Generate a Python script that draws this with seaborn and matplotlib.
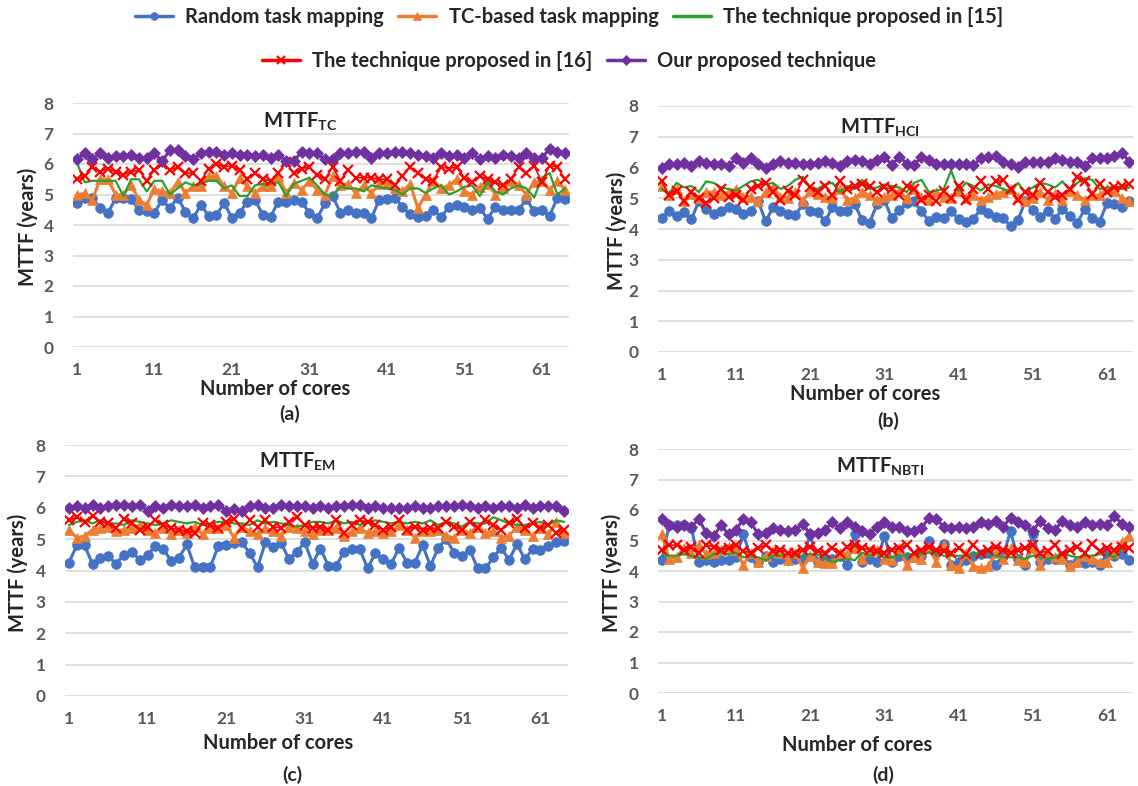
import numpy as np
import matplotlib.pyplot as plt
import seaborn as sns
from matplotlib.lines import Line2D

cores = np.arange(1, 65)
series_names = ["Random task mapping", "TC-based task mapping", "The technique proposed in [15]",
                "The technique proposed in [16]", "Our proposed technique"]
panel_titles = [r"MTTF$_{\mathbf{TC}}$", r"MTTF$_{\mathbf{HCI}}$", r"MTTF$_{\mathbf{EM}}$", r"MTTF$_{\mathbf{NBTI}}$"]
panel_tags = ["(a)", "(b)", "(c)", "(d)"]
xtick_labels = [1, 11, 21, 31, 41, 51, 61]
ytick_labels = [0, 1, 2, 3, 4, 5, 6, 7, 8]

# (a) MTTF_TC
a_random = [4.73, 4.88, 4.88, 4.55, 4.38, 4.88, 4.88, 4.84, 4.49, 4.47, 4.4, 4.82, 4.55, 4.9, 4.44, 4.22,
            4.66, 4.3, 4.33, 4.71, 4.24, 4.4, 4.77, 4.82, 4.33, 4.27, 4.77, 4.77, 4.82, 4.77, 4.38, 4.22,
            4.71, 4.95, 4.4, 4.49, 4.38, 4.38, 4.22, 4.82, 4.85, 4.9, 4.6, 4.35, 4.25, 4.3, 4.5, 4.25,
            4.6, 4.65, 4.6, 4.5, 4.55, 4.2, 4.6, 4.5, 4.5, 4.5, 4.85, 4.45, 4.5, 4.3, 4.9, 4.85]
a_tc = [4.99, 5.04, 4.82, 5.5, 5.5, 4.99, 4.99, 5.32, 4.82, 4.66, 5.18, 5.1, 5.04, 5.42, 5.04, 5.28,
        5.28, 5.6, 5.6, 5.28, 5.04, 5.55, 5.28, 5.04, 5.28, 5.28, 5.6, 5.04, 5.38, 5.15, 5.45, 5.15,
        4.99, 5.6, 5.3, 5.35, 5.04, 5.3, 5.04, 5.35, 5.35, 5.2, 5.1, 5.35, 4.55, 5.0, 5.45, 5.2,
        5.3, 5.5, 5.1, 5.0, 5.25, 5.35, 5.0, 5.2, 5.45, 5.3, 5.0, 5.4, 5.45, 5.15, 5.45, 5.15]
a_t15 = [6.05, 5.4, 5.45, 5.45, 5.45, 5.45, 4.95, 5.5, 5.5, 5.1, 5.45, 5.45, 5.0, 5.2, 5.4, 5.3,
         5.35, 5.45, 5.45, 5.2, 5.3, 4.95, 4.95, 5.3, 5.35, 5.35, 5.4, 4.95, 5.35, 5.45, 5.55, 5.3,
         5.0, 4.95, 5.25, 5.2, 5.2, 5.1, 5.3, 5.25, 5.2, 5.15, 5.0, 5.2, 5.2, 5.05, 5.2, 5.3,
         5.0, 5.1, 5.25, 5.3, 4.95, 5.4, 5.1, 5.0, 5.2, 5.3, 5.2, 4.9, 5.55, 5.7, 5.0, 5.2]
a_t16 = [5.5, 5.6, 5.9, 5.75, 5.85, 5.75, 5.65, 5.75, 5.8, 5.45, 5.8, 6.0, 5.8, 5.9, 5.7, 5.7,
         5.45, 5.85, 6.0, 5.9, 5.95, 5.8, 5.5, 5.7, 5.5, 5.45, 5.7, 6.05, 5.7, 5.85, 5.9, 5.65,
         5.5, 5.9, 5.45, 5.8, 5.55, 5.55, 5.55, 5.5, 5.5, 5.3, 5.6, 5.9, 5.7, 5.5, 5.45, 5.9,
         5.85, 5.9, 5.55, 5.4, 5.6, 5.5, 5.4, 5.3, 5.5, 5.9, 5.7, 5.95, 5.4, 5.95, 5.9, 5.5]
a_ours = [6.15, 6.35, 6.15, 6.35, 6.2, 6.25, 6.25, 6.3, 6.2, 6.2, 6.35, 6.1, 6.45, 6.45, 6.25, 6.15,
          6.35, 6.4, 6.4, 6.3, 6.35, 6.3, 6.3, 6.25, 6.3, 6.2, 6.3, 6.1, 6.1, 6.4, 6.35, 6.35,
          6.15, 6.15, 6.35, 6.35, 6.4, 6.4, 6.2, 6.35, 6.35, 6.4, 6.4, 6.35, 6.3, 6.25, 6.2, 6.35,
          6.25, 6.3, 6.2, 6.35, 6.15, 6.25, 6.2, 6.3, 6.25, 6.2, 6.35, 6.2, 6.2, 6.5, 6.4, 6.35]

# (b) MTTF_HCI
b_random = [4.35, 4.6, 4.42, 4.55, 4.32, 4.9, 4.65, 4.5, 4.6, 4.7, 4.65, 4.5, 4.6, 4.9, 4.25, 4.7,
            4.6, 4.5, 4.45, 4.8, 4.6, 4.55, 4.25, 4.7, 4.6, 4.6, 4.8, 4.3, 4.2, 4.8, 4.94, 4.35,
            4.62, 4.84, 4.9, 4.57, 4.27, 4.38, 4.35, 4.57, 4.33, 4.24, 4.33, 4.65, 4.51, 4.38, 4.35, 4.1,
            4.3, 4.9, 4.62, 4.4, 4.57, 4.33, 4.65, 4.42, 4.2, 4.65, 4.36, 4.24, 4.84, 4.8, 4.7, 4.9]
b_tc = [5.4, 5.1, 5.3, 4.9, 5.15, 5.0, 5.2, 5.2, 5.1, 5.2, 5.3, 5.05, 5.05, 4.9, 5.2, 5.35,
        5.05, 5.0, 5.2, 4.9, 5.25, 5.15, 5.05, 5.0, 5.3, 4.95, 5.0, 5.2, 5.1, 4.95, 5.05, 5.1,
        5.25, 5.0, 5.3, 5.05, 4.95, 5.2, 5.05, 5.0, 5.25, 5.0, 5.1, 4.95, 5.05, 5.15, 5.2, 5.3,
        5.05, 4.9, 5.0, 5.2, 4.95, 5.15, 4.95, 5.25, 5.1, 4.95, 5.1, 5.1, 5.3, 5.25, 5.0, 4.9]
b_t15 = [5.3, 5.15, 5.5, 5.35, 5.4, 5.2, 5.55, 5.5, 5.35, 5.3, 5.25, 5.4, 5.55, 5.6, 5.45, 5.5,
         5.3, 5.4, 5.6, 5.7, 5.35, 5.3, 5.45, 5.5, 5.2, 5.4, 5.3, 5.6, 5.3, 5.35, 5.45, 5.4,
         5.35, 5.2, 5.5, 5.6, 5.2, 5.25, 5.3, 5.9, 5.25, 5.5, 5.4, 5.25, 5.45, 5.4, 5.3, 5.2,
         5.5, 5.2, 5.35, 5.5, 5.45, 5.35, 5.55, 5.25, 5.5, 5.65, 5.6, 5.3, 5.35, 5.35, 5.3, 5.35]
b_t16 = [5.55, 5.1, 5.25, 4.9, 5.2, 5.0, 4.85, 5.0, 5.3, 5.05, 5.1, 4.95, 5.3, 5.4, 5.5, 5.2,
         4.95, 5.25, 5.1, 5.6, 5.35, 5.2, 5.4, 5.1, 5.55, 5.3, 5.4, 5.45, 5.4, 5.2, 5.35, 5.3,
         5.1, 5.4, 5.3, 4.95, 5.1, 4.9, 5.25, 5.0, 5.4, 4.95, 5.3, 5.55, 5.3, 5.55, 5.6, 5.3,
         4.95, 5.2, 5.1, 5.5, 5.2, 5.05, 5.1, 5.3, 5.7, 5.55, 5.15, 5.45, 5.2, 5.35, 5.4, 5.45]
b_ours = [6.0, 6.1, 6.1, 6.15, 6.05, 6.2, 6.15, 6.1, 6.1, 6.05, 6.3, 6.15, 6.3, 6.1, 6.0, 6.1,
          6.2, 6.15, 6.15, 6.1, 6.1, 6.15, 6.2, 6.15, 6.05, 6.2, 6.25, 6.2, 6.1, 6.25, 6.35, 6.08,
          6.35, 6.13, 6.08, 6.35, 6.24, 6.13, 6.13, 6.13, 6.13, 6.13, 6.08, 6.3, 6.33, 6.37, 6.19, 6.13,
          6.03, 6.19, 6.17, 6.17, 6.19, 6.3, 6.24, 6.19, 6.17, 6.05, 6.3, 6.3, 6.3, 6.37, 6.48, 6.19]

# (c) MTTF_EM
c_random = [4.25, 4.8, 4.8, 4.2, 4.4, 4.45, 4.22, 4.5, 4.6, 4.33, 4.5, 4.77, 4.7, 4.3, 4.4, 4.83,
            4.1, 4.1, 4.12, 4.77, 4.8, 4.87, 4.9, 4.55, 4.1, 4.9, 4.75, 4.87, 4.36, 4.6, 4.9, 4.22,
            4.7, 4.15, 4.15, 4.6, 4.7, 4.68, 4.07, 4.55, 4.38, 4.2, 4.73, 4.25, 4.25, 4.8, 4.15, 4.73,
            5.0, 4.57, 4.47, 4.66, 4.07, 4.07, 4.42, 4.73, 4.33, 4.85, 4.36, 4.68, 4.66, 4.77, 4.9, 4.95]
c_tc = [5.3, 5.05, 5.1, 5.3, 5.35, 5.4, 5.25, 5.3, 5.35, 5.45, 5.3, 5.2, 5.35, 5.15, 5.3, 5.2,
        5.4, 5.15, 5.35, 5.35, 5.45, 5.05, 5.4, 5.25, 5.15, 5.35, 5.25, 5.1, 5.4, 5.35, 5.25, 5.15,
        5.3, 5.3, 5.35, 5.1, 5.25, 5.35, 5.2, 5.25, 5.2, 5.25, 5.45, 5.3, 5.05, 5.25, 5.25, 5.3,
        5.1, 5.05, 5.3, 5.2, 5.4, 5.2, 5.25, 5.05, 5.1, 5.4, 5.3, 5.1, 5.35, 5.15, 5.55, 5.2]
c_t15 = [5.45, 5.55, 5.6, 5.5, 5.6, 5.5, 5.5, 5.45, 5.6, 5.55, 5.5, 5.45, 5.5, 5.6, 5.55, 5.5,
         5.55, 5.45, 5.5, 5.55, 5.55, 5.5, 5.5, 5.45, 5.6, 5.5, 5.55, 5.5, 5.45, 5.4, 5.45, 5.55,
         5.55, 5.5, 5.6, 5.5, 5.55, 5.45, 5.55, 5.6, 5.55, 5.5, 5.55, 5.5, 5.55, 5.5, 5.6, 5.45,
         5.55, 5.5, 5.4, 5.55, 5.5, 5.5, 5.7, 5.6, 5.5, 5.45, 5.45, 5.5, 5.55, 5.45, 5.6, 5.55]
c_t16 = [5.6, 5.7, 5.55, 5.75, 5.55, 5.5, 5.35, 5.65, 5.5, 5.3, 5.4, 5.6, 5.45, 5.35, 5.3, 5.25,
         5.2, 5.5, 5.45, 5.35, 5.55, 5.65, 5.35, 5.6, 5.4, 5.6, 5.4, 5.35, 5.55, 5.7, 5.45, 5.35,
         5.4, 5.3, 5.6, 5.2, 5.45, 5.6, 5.55, 5.45, 5.3, 5.4, 5.6, 5.3, 5.4, 5.3, 5.35, 5.35,
         5.55, 5.4, 5.3, 5.55, 5.35, 5.6, 5.45, 5.3, 5.5, 5.65, 5.35, 5.5, 5.35, 5.45, 5.2, 5.3]
c_ours = [6.0, 6.05, 6.0, 6.1, 6.0, 6.05, 6.1, 6.1, 6.05, 6.1, 5.9, 6.05, 6.0, 6.1, 6.05, 6.05,
          6.1, 6.0, 6.05, 6.1, 5.9, 5.95, 5.9, 6.05, 6.1, 6.0, 6.0, 6.1, 6.05, 6.05, 6.05, 6.0,
          6.05, 6.0, 6.05, 6.05, 6.1, 6.1, 6.0, 6.05, 6.0, 6.0, 6.0, 6.0, 6.05, 6.0, 6.0, 6.05,
          6.05, 6.05, 6.1, 6.05, 6.0, 6.05, 6.0, 6.05, 6.05, 6.0, 6.1, 6.0, 6.05, 6.05, 6.05, 5.9]

# (d) MTTF_NBTI
d_random = [4.35, 5.5, 5.5, 5.5, 5.4, 4.3, 4.35, 4.3, 4.35, 4.35, 4.45, 5.2, 4.45, 4.3, 4.5, 4.3,
            4.4, 4.35, 4.4, 4.4, 5.2, 4.3, 4.4, 4.4, 4.5, 4.2, 5.2, 4.3, 4.4, 4.3, 5.15, 4.3,
            4.5, 4.45, 4.45, 4.5, 5.0, 4.6, 4.9, 4.2, 4.3, 4.35, 4.5, 4.55, 4.6, 4.2, 4.5, 5.3,
            4.4, 4.2, 5.2, 4.3, 4.4, 4.4, 4.5, 4.2, 4.3, 4.25, 4.3, 4.2, 4.55, 4.5, 4.55, 4.35]
d_tc = [5.2, 4.4, 4.45, 4.75, 4.6, 4.85, 4.55, 4.6, 4.7, 4.8, 4.7, 4.2, 4.6, 4.3, 4.5, 4.65,
        4.6, 4.35, 4.6, 4.1, 4.5, 4.3, 4.25, 4.25, 4.6, 4.55, 4.75, 4.4, 4.65, 4.7, 4.4, 4.35,
        4.75, 4.2, 4.45, 4.4, 4.75, 4.3, 4.85, 4.2, 4.1, 4.6, 4.15, 4.1, 4.15, 4.6, 4.4, 4.75,
        4.35, 4.3, 4.75, 4.2, 4.6, 4.45, 4.4, 4.15, 4.3, 4.5, 4.4, 4.3, 4.3, 4.6, 4.95, 5.15]
d_t15 = [4.5, 4.5, 4.5, 4.55, 4.5, 4.45, 4.4, 4.55, 4.6, 4.55, 4.6, 4.45, 4.5, 4.45, 4.35, 4.5,
         4.5, 4.55, 4.5, 4.5, 4.55, 4.55, 4.4, 4.3, 4.35, 4.4, 4.35, 4.6, 4.5, 4.6, 4.45, 4.45,
         4.5, 4.5, 4.55, 4.55, 4.6, 4.6, 4.5, 4.5, 4.5, 4.5, 4.55, 4.55, 4.55, 4.5, 4.45, 4.45,
         4.45, 4.4, 4.5, 4.5, 4.4, 4.45, 4.6, 4.5, 4.45, 4.5, 4.5, 4.55, 4.55, 4.45, 4.7, 4.8]
d_t16 = [4.7, 4.85, 4.85, 4.7, 4.8, 4.6, 4.85, 4.8, 4.7, 4.75, 4.85, 4.65, 4.6, 4.75, 4.85, 4.65,
         4.7, 4.6, 4.6, 4.7, 4.8, 4.65, 4.6, 4.75, 4.6, 4.8, 4.85, 4.75, 4.7, 4.65, 4.6, 4.7,
         4.75, 4.85, 4.6, 4.7, 4.8, 4.7, 4.65, 4.6, 4.75, 4.55, 4.85, 4.6, 4.7, 4.8, 4.7, 4.6,
         4.7, 4.75, 4.85, 4.6, 4.65, 4.85, 4.55, 4.7, 4.8, 4.6, 4.9, 4.65, 4.75, 4.7, 4.8, 4.75]
d_ours = [5.7, 5.5, 5.45, 5.5, 5.45, 5.7, 5.25, 5.15, 5.5, 5.2, 5.35, 5.7, 5.6, 5.2, 5.25, 5.4,
          5.35, 5.3, 5.35, 5.55, 5.2, 5.25, 5.35, 5.6, 5.4, 5.6, 5.45, 5.3, 5.2, 5.45, 5.6, 5.45,
          5.45, 5.3, 5.3, 5.4, 5.75, 5.7, 5.45, 5.4, 5.45, 5.4, 5.45, 5.6, 5.55, 5.65, 5.45, 5.75,
          5.6, 5.5, 5.3, 5.65, 5.4, 5.35, 5.65, 5.5, 5.45, 5.6, 5.5, 5.55, 5.5, 5.8, 5.55, 5.45]

panels = [
    [a_random, a_tc, a_t15, a_t16, a_ours],
    [b_random, b_tc, b_t15, b_t16, b_ours],
    [c_random, c_tc, c_t15, c_t16, c_ours],
    [d_random, d_tc, d_t15, d_t16, d_ours],
]

colors = ["#4472C4", "#ED7D31", "#2CA02C", "#FF0000", "#7030A0"]
markers = ["o", "^", None, "x", "D"]
msizes = [7, 7.5, 0, 6.5, 6]
lwidths = [2.2, 2.2, 1.6, 1.2, 2.2]

sns.set_style("white")
plt.rcParams["font.family"] = ["Lato", "DejaVu Sans"]
plt.rcParams["font.weight"] = "bold"
plt.rcParams["mathtext.fontset"] = "custom"
plt.rcParams["mathtext.rm"] = "Lato:bold"
plt.rcParams["mathtext.bf"] = "Lato:bold"

fig = plt.figure(figsize=(11.38, 7.86), dpi=100)
W, H = 1138, 786

# pixel boxes: left, right, top(8), bottom(0)
boxes = [(73, 569, 103, 347), (658, 1133, 106, 352), (65, 568, 445, 696), (658, 1133, 449, 693)]
title_pos = [(300, 122), (880, 128), (297, 462), (880, 467)]
xlabel_pos = [(275, 389), (865, 394), (278, 743), (857, 745)]
tag_pos = [(290, 414), (888, 421), (292, 775), (883, 775)]
ylabel_x = [28, 617, 18, 612]

for k, (l, r, t, b) in enumerate(boxes):
    ax = fig.add_axes([l / W, 1 - b / H, (r - l) / W, (b - t) / H])
    for j, vals in enumerate(panels[k]):
        kw = dict(color=colors[j], linewidth=lwidths[j])
        if markers[j]:
            kw.update(marker=markers[j], markersize=msizes[j], markeredgecolor=colors[j],
                      markerfacecolor=colors[j], markeredgewidth=1.6 if markers[j] == "x" else 0.5)
        sns.lineplot(x=cores, y=vals, ax=ax, **kw)
    ax.set_xlim(0.5, 64.5)
    ax.set_ylim(0, 8)
    ax.set_xticks(xtick_labels)
    ax.set_yticks(ytick_labels)
    ax.tick_params(axis="y", length=0, labelsize=12.5, labelcolor="#595959", pad=14)
    ax.tick_params(axis="x", length=0, labelsize=12.5, labelcolor="#595959", pad=11)
    for lab in ax.get_xticklabels() + ax.get_yticklabels():
        lab.set_fontweight("bold")
    ax.grid(axis="y", color="#D9D9D9", linewidth=1.2)
    ax.set_axisbelow(True)
    for s in ax.spines.values():
        s.set_visible(False)
    ax.set_xlabel("")
    ax.set_ylabel("")
    fig.text(title_pos[k][0] / W, 1 - title_pos[k][1] / H, panel_titles[k], ha="center", va="center",
             fontsize=14.5, fontweight="bold")
    fig.text(xlabel_pos[k][0] / W, 1 - xlabel_pos[k][1] / H, "Number of cores", ha="center", va="center",
             fontsize=14.5, fontweight="bold")
    fig.text(tag_pos[k][0] / W, 1 - tag_pos[k][1] / H, panel_tags[k], ha="center", va="center",
             fontsize=14, fontweight="bold")
    fig.text(ylabel_x[k] / W, 1 - ((t + b) / 2 + 2) / H, "MTTF (years)", ha="center", va="center",
             rotation=90, fontsize=14.5, fontweight="bold")

handles = []
for j in range(5):
    if markers[j]:
        h = Line2D([], [], color=colors[j], linewidth=2.5, marker=markers[j], markersize=5.5,
                   markerfacecolor=colors[j], markeredgecolor=colors[j],
                   markeredgewidth=1.6 if markers[j] == "x" else 0.5)
    else:
        h = Line2D([], [], color=colors[j], linewidth=2.5)
    handles.append(h)

leg_kw = dict(frameon=False, prop={"weight": "bold", "size": 14.5}, handlelength=1.9,
              handletextpad=0.6, columnspacing=0.7)
fig.legend(handles[:3], series_names[:3], loc="center", bbox_to_anchor=(0.5, 1 - 17 / H), ncol=3, **leg_kw)
fig.legend(handles[3:], series_names[3:], loc="center", bbox_to_anchor=(0.5, 1 - 61 / H), ncol=2, **leg_kw)

fig.savefig("out.png", dpi=100)
